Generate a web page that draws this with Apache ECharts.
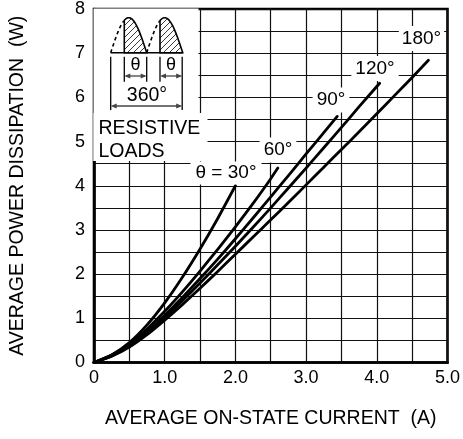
<!DOCTYPE html>
<html>
<head>
<meta charset="utf-8">
<script src="https://cdn.jsdelivr.net/npm/echarts@6/dist/echarts.min.js"></script>
<style>
html,body{margin:0;padding:0;background:#fff;}
#chart{width:463px;height:439px;}
</style>
</head>
<body>
<div id="chart"></div>
<script>
// ---- Data ----
const xTicks = [0, 1.0, 2.0, 3.0, 4.0, 5.0];
const yTicks = [0, 1, 2, 3, 4, 5, 6, 7, 8];
const curveNames = ['θ = 30°', '60°', '90°', '120°', '180°'];
const theta30 = [[0,0],[0.25,0.17],[0.5,0.45],[0.75,0.85],[1.0,1.35],[1.25,1.93],[1.5,2.57],[1.75,3.26],[2.0,4.0]];
const theta60 = [[0,0],[0.25,0.17],[0.5,0.42],[0.75,0.76],[1.0,1.16],[1.25,1.6],[1.5,2.07],[1.75,2.56],[2.0,3.07],[2.25,3.6],[2.5,4.16],[2.6,4.4]];
const theta90 = [[0,0],[0.25,0.16],[0.5,0.39],[0.75,0.7],[1.0,1.07],[1.25,1.47],[1.5,1.9],[1.75,2.34],[2.0,2.8],[2.25,3.27],[2.5,3.75],[2.75,4.23],[3.0,4.72],[3.25,5.2],[3.44,5.57]];
const theta120 = [[0,0],[0.25,0.15],[0.5,0.37],[0.75,0.66],[1.0,1.02],[1.25,1.4],[1.5,1.8],[1.75,2.21],[2.0,2.63],[2.25,3.06],[2.5,3.5],[2.75,3.95],[3.0,4.4],[3.25,4.86],[3.5,5.32],[3.75,5.79],[4.04,6.32]];
const theta180 = [[0,0],[0.25,0.14],[0.5,0.35],[0.75,0.63],[1.0,0.96],[1.25,1.31],[1.5,1.68],[1.75,2.06],[2.0,2.45],[2.25,2.84],[2.5,3.23],[2.75,3.62],[3.0,4.02],[3.25,4.42],[3.5,4.82],[3.75,5.22],[4.0,5.63],[4.25,6.04],[4.5,6.45],[4.73,6.84]];

const chart = echarts.init(document.getElementById('chart'), null, {renderer:'canvas'});
const FONT = 'Liberation Sans, Arial, Helvetica, sans-serif';

function isTick(v, ticks){ return ticks.some(t => Math.abs(t - v) < 1e-6); }

function mkSeries(name, data){
  return {
    name: name, type: 'line', data: data, smooth: 0.2, showSymbol: false,
    lineStyle: {color: '#000', width: 2.8, join: 'round', cap: 'round'}, z: 5, silent: true
  };
}

// hatch pattern
const pc = document.createElement('canvas');
pc.width = 6; pc.height = 6;
const pctx = pc.getContext('2d');
pctx.strokeStyle = '#222'; pctx.lineWidth = 0.9;
pctx.beginPath();
pctx.moveTo(-1,7); pctx.lineTo(7,-1);
pctx.moveTo(-4,4); pctx.lineTo(4,-4);
pctx.moveTo(2,10); pctx.lineTo(10,2);
pctx.stroke();

// inset drawing helpers (decoration only)
const base = 52.7, HW = 36, HH = 35;
function topY(x0, x){ return base - HH * Math.sin(Math.PI * (x - x0) / HW); }
function hump(x0, xs){
  const els = [];
  const dash = [];
  for (let x = x0; x <= xs + 0.01; x += 1) dash.push([x, topY(x0, x)]);
  els.push({type:'polyline', z:20, shape:{points:dash}, style:{stroke:'#000', lineWidth:1.6, lineDash:[3.5,3], fill:null}});
  const poly = [[xs, base]];
  for (let x = xs; x <= x0 + HW + 0.01; x += 0.5) poly.push([x, topY(x0, x)]);
  poly.push([x0 + HW, base]);
  els.push({type:'polygon', z:20, shape:{points:poly}, style:{fill:{image:pc, repeat:'repeat'}, stroke:'#000', lineWidth:1.6}});
  return els;
}
function arrowH(x1, x2, y){
  const c = '#444', L = 6, w = 2.6;
  return [
    {type:'line', z:20, shape:{x1:x1+2, y1:y, x2:x2-2, y2:y}, style:{stroke:c, lineWidth:1.3}},
    {type:'polygon', z:20, shape:{points:[[x1,y],[x1+L,y-w],[x1+L,y+w]]}, style:{fill:c}},
    {type:'polygon', z:20, shape:{points:[[x2,y],[x2-L,y-w],[x2-L,y+w]]}, style:{fill:c}}
  ];
}
function vline(x, y1, y2){
  return {type:'line', z:20, shape:{x1:x, y1:y1, x2:x, y2:y2}, style:{stroke:'#000', lineWidth:1.3}};
}
function txt(s, x, y, size, align, bg){
  const st = {text:s, x:x, y:y, font: size + 'px ' + FONT, fill:'#000', align: align || 'center', verticalAlign:'middle'};
  if (bg) { st.backgroundColor = '#fff'; st.padding = bg; }
  return {type:'text', z:22, style:st};
}

const graphics = [
  {type:'rect', z:15, shape:{x:93.5, y:8.5, width:105, height:152.5}, style:{fill:'#fff'}},
  {type:'rect', z:15, shape:{x:93.5, y:113, width:114, height:48}, style:{fill:'#fff'}},
  {type:'line', z:20, shape:{x1:110.7, y1:base, x2:182.7, y2:base}, style:{stroke:'#000', lineWidth:1.6}},
  ...hump(110.7, 124.3),
  ...hump(146.7, 160),
  vline(124.3, 56.7, 81.7), vline(146.7, 56.7, 81.7), vline(160, 56.7, 81.7),
  vline(110.7, 56.7, 110), vline(182.2, 56.7, 110),
  ...arrowH(124.3, 146.7, 76), ...arrowH(160, 182.2, 76),
  ...arrowH(110.7, 182.2, 106),
  txt('θ', 135.5, 65.5, 18), txt('θ', 171, 65.5, 18),
  txt('360°', 147, 96, 19.5),
  txt('RESISTIVE', 98.5, 128.5, 19.5, 'left'),
  txt('LOADS', 98.5, 152, 19.5, 'left'),
  txt(curveNames[0], 226, 173, 19, 'center', [2,5]),
  txt(curveNames[1], 278, 150, 19, 'center', [3,4]),
  txt(curveNames[2], 331, 100, 19, 'center', [3,4]),
  txt(curveNames[3], 375, 68.5, 19, 'center', [3,4]),
  txt(curveNames[4], 421.5, 38.5, 19, 'center', [3,3])
];

const option = {
  backgroundColor: '#fff',
  animation: false,
  grid: {left: 92, right: 15, top: 7, bottom: 76.5, show: true, borderColor: '#000', borderWidth: 2.6, backgroundColor: 'transparent'},
  xAxis: {
    type: 'value', min: 0, max: 5, interval: 0.5,
    name: 'AVERAGE ON-STATE CURRENT  (A)', nameLocation: 'middle', nameGap: 46,
    nameTextStyle: {fontSize: 19.5, fontFamily: FONT, color: '#000'},
    axisLine: {show: true, lineStyle: {color: '#000', width: 2.6}},
    axisTick: {show: false},
    splitLine: {show: true, lineStyle: {color: '#111', width: 1.2}},
    axisLabel: {
      fontSize: 18, fontFamily: FONT, color: '#000', margin: 7, showMaxLabel: true, showMinLabel: true,
      formatter: v => isTick(v, xTicks) ? (Math.abs(v) < 1e-6 ? '0' : v.toFixed(1)) : ''
    }
  },
  yAxis: {
    type: 'value', min: 0, max: 8, interval: 0.5,
    name: 'AVERAGE POWER DISSIPATION  (W)', nameLocation: 'middle', nameGap: 66, nameRotate: 90,
    nameTextStyle: {fontSize: 19.5, fontFamily: FONT, color: '#000'},
    axisLine: {show: true, lineStyle: {color: '#000', width: 2.6}},
    axisTick: {show: false},
    splitLine: {show: true, lineStyle: {color: '#111', width: 1.2}},
    axisLabel: {
      fontSize: 18, fontFamily: FONT, color: '#000', margin: 9,
      formatter: v => isTick(v, yTicks) ? String(Math.round(v)) : ''
    }
  },
  series: [
    mkSeries(curveNames[0], theta30),
    mkSeries(curveNames[1], theta60),
    mkSeries(curveNames[2], theta90),
    mkSeries(curveNames[3], theta120),
    mkSeries(curveNames[4], theta180)
  ],
  graphic: graphics
};
chart.setOption(option);
</script>
</body>
</html>
